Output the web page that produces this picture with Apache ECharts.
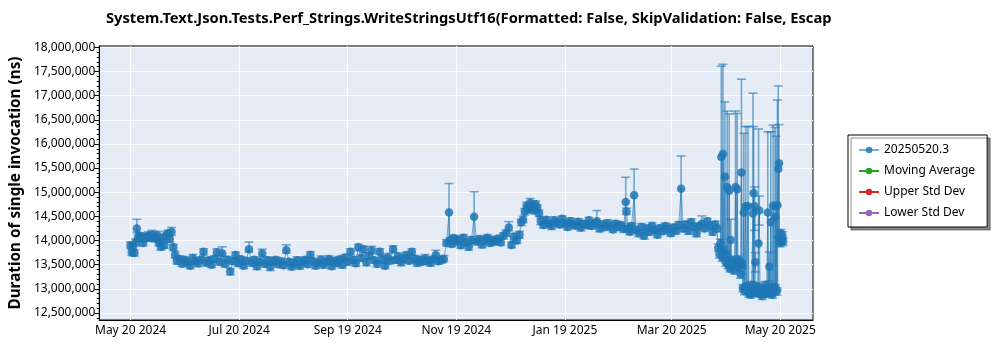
<!DOCTYPE html>
<html>
<head>
<meta charset="utf-8">
<script src="https://cdn.jsdelivr.net/npm/echarts@6/dist/echarts.min.js"></script>
<style>
  html, body { margin: 0; padding: 0; background: #fff; }
  #chart { width: 1000px; height: 350px; }
</style>
</head>
<body>
<div id="chart"></div>
<script>
// ---------------- DATA ----------------
const chartTitle = 'System.Text.Json.Tests.Perf_Strings.WriteStringsUtf16(Formatted: False, SkipValidation: False, Escap';
const yAxisTitle = 'Duration of single invocation (ns)';
const seriesNames = ['20250520.3', 'Moving Average', 'Upper Std Dev', 'Lower Std Dev'];
const baseDate = '2024-05-20';               // day offsets are counted from this date
const xTickDates = ['2024-05-20', '2024-07-20', '2024-09-19', '2024-11-19', '2025-01-19', '2025-03-20', '2025-05-20'];
const yTickValues = [12500000, 13000000, 13500000, 14000000, 14500000, 15000000, 15500000, 16000000, 16500000, 17000000, 17500000, 18000000];

// day offset of each run
const dayOffsets = [
  0, 0.7, 1.4, 2.1, 2.8, 3.5, 4.2, 5, 6, 7,
  8, 9, 10, 11, 12, 13, 14, 15, 16, 17,
  18, 19, 20, 21, 22, 23, 24, 25, 26,
  27.5, 29, 30.5, 32, 33.5, 35, 36.5, 38, 39.5, 41,
  42.5, 44, 45.5, 47, 48.5, 50, 51.5, 53, 54.5, 56,
  57.5, 59, 60.5, 62, 63.5, 65, 66.5, 68, 69.5, 71,
  72.5, 74, 75.5, 77, 78.5, 80, 81.5, 83, 84.5, 86,
  87.5, 89, 90.5, 92, 93.5, 95, 96.5, 98, 99.5, 101,
  102.5, 104, 105.5, 107, 108.5, 110, 111.5, 113, 114.5, 116,
  117.5, 119, 120.5, 122, 123.5, 125, 126.5, 128, 129.5, 131,
  132.5, 134, 135.5, 137, 138.5, 140, 141.5, 143, 144.5, 146,
  147.5, 149, 150.5, 152, 153.5, 155, 156.5, 158, 159.5, 161,
  162.5, 164, 165.5, 167, 168.5, 170, 171.5, 173, 174.5, 176,
  177.5, 178.9, 179.5, 180.5, 181.5, 182.5, 184, 185.5, 187, 188.5,
  190, 191.5, 193, 194.5, 196, 197.5, 199, 200.5, 202, 203.5,
  205, 206.5, 208, 209.5, 211, 212.5, 214, 215.5, 217, 218.5,
  219.5, 220.5, 221.5, 222.5, 223.5, 224.5, 225.5, 226.5, 227.5, 228.5,
  229.5, 230.5, 232, 233.5, 235, 236.5, 238, 239.5, 241, 242.5,
  244, 245.5, 247, 248.5, 250, 251.5, 253, 254.5, 256, 257.5,
  259, 260.5, 262, 263.5, 265, 266.5, 268, 269.5, 271, 272.5,
  274, 275.5, 277, 278.2, 278.6, 279.5, 280.5, 281.5, 282.9, 284,
  285.5, 287, 288.5, 290, 291.5, 293, 294.5, 296, 297.5, 299,
  300.5, 302, 303.5, 305, 306.5, 308, 309.3, 310.5, 312, 313.5,
  315, 316.5, 318, 319.5, 321, 322.5, 324, 325.5, 327, 328.5,
  329.5,
  330.2, 330.8, 331.4, 331.9, 332.4, 332.8, 333.3, 333.9, 334.4, 334.8,
  335.2, 335.7, 336.3, 336.7, 337.2, 337.7, 338.2, 338.7, 339.2, 339.9,
  340.3, 340.8, 341.3, 341.8, 342.3, 342.7, 343.2, 343.7, 344.0, 344.5,
  345.0, 345.6, 346.1, 346.9, 347.4, 347.9, 348.4, 348.9, 349.7, 350.0,
  350.3, 350.6, 351.0, 351.5, 352.0, 352.4, 352.8, 353.2, 353.7, 354.3,
  354.9, 355.5, 356.1, 356.7, 357.3, 358.0, 358.5, 358.9, 359.3, 359.7,
  360.2, 360.6, 361.0, 361.5, 362.1, 362.4, 362.7, 363.1, 363.4, 363.9,
  364.3, 364.6, 365.0, 365.4, 365.8, 366.2, 366.6
];

// duration (thousands of ns)
const durationK = [
  13900, 13760, 13870, 13740, 13960, 14250, 14060, 14100, 14040, 13950,
  14080, 14060, 14100, 14050, 14120, 14070, 14040, 14110, 13950, 13870,
  14060, 13900, 14100, 14150, 14030, 14180, 13860, 13700, 13580,
  13620, 13520, 13600, 13550, 13480, 13640, 13570, 13530, 13600, 13770,
  13540, 13590, 13500, 13620, 13750, 13560, 13730, 13520, 13600, 13360,
  13570, 13700, 13530, 13610, 13480, 13580, 13820, 13540, 13600, 13470,
  13560, 13730, 13520, 13590, 13450, 13560, 13600, 13510, 13570, 13490,
  13800, 13560, 13460, 13530, 13590, 13480, 13550, 13600, 13510, 13700,
  13570, 13480, 13540, 13600, 13500, 13560, 13620, 13470, 13580, 13530,
  13610, 13500, 13650, 13560, 13770, 13600, 13530, 13860, 13640, 13820,
  13550, 13680, 13800, 13590, 13520, 13770, 13610, 13480, 13650, 13580,
  13820, 13600, 13670, 13550, 13620, 13700, 13580, 13770, 13620, 13540,
  13600, 13560, 13630, 13580, 13540, 13610, 13700, 13570, 13600, 13620,
  13950, 14580, 14000, 13930, 14050, 13980, 14020, 13900, 14060, 13960,
  13870, 14010, 14490, 13980, 14030, 13920, 14000, 14060, 13950, 14010,
  13980, 14040, 13960, 14100, 14150, 14270, 13910, 14080, 14000, 14120,
  14380, 14430, 14600, 14720, 14650, 14780, 14700, 14620, 14750, 14680,
  14560, 14400, 14320, 14430, 14350, 14300, 14420, 14380, 14330, 14450,
  14360, 14280, 14400, 14340, 14310, 14390, 14270, 14350, 14320, 14420,
  14300, 14360, 14400, 14250, 14330, 14280, 14360, 14300, 14230, 14350,
  14280, 14320, 14240, 14800, 14600, 14250, 14180, 14300, 14940, 14220,
  14150, 14280, 14100, 14250, 14180, 14300, 14220, 14120, 14260, 14190,
  14300, 14240, 14150, 14270, 14200, 14320, 15070, 14250, 14330, 14200,
  14380, 14280, 14150, 14300, 14350, 14250, 14400, 14300, 14180, 14330,
  14250,
  13850, 13720, 13950, 15730, 13650, 15790, 13800, 15320, 13550, 13700,
  15110, 13500, 15030, 13420, 14010, 13600, 13480, 13550, 13380, 15110,
  13520, 15060, 13600, 13450, 13550, 13300, 15410, 13500, 13020, 14580,
  12950, 14710, 13050, 14710, 12900, 13000, 12880, 13080, 14560, 14980,
  12950, 14710, 13550, 12920, 13050, 12980, 13940, 14620, 12900, 13020,
  12850, 13000, 12940, 13080, 12900, 14580, 12980, 13460, 12920, 14380,
  13040, 12880, 14720, 12960, 14490, 13010, 14720, 12950, 14730, 15480,
  15600, 14050, 13950, 14150, 14000, 14100, 13980
];

// error above the value (thousands of ns)
const errUpK = [
  70, 60, 80, 60, 70, 190, 70, 60, 80, 60,
  70, 60, 80, 60, 90, 60, 70, 80, 60, 70,
  60, 70, 80, 60, 70, 90, 60, 70, 60,
  60, 70, 60, 80, 60, 70, 60, 70, 60, 60,
  70, 60, 70, 60, 80, 60, 140, 60, 70, 60,
  70, 60, 70, 60, 70, 60, 150, 70, 60, 70,
  60, 90, 60, 70, 60, 70, 60, 80, 60, 70,
  110, 60, 70, 60, 70, 60, 80, 60, 70, 70,
  60, 70, 60, 80, 60, 70, 60, 70, 60, 70,
  60, 80, 60, 70, 60, 70, 60, 60, 70, 60,
  70, 60, 80, 60, 70, 60, 70, 60, 80, 60,
  70, 60, 70, 60, 80, 60, 70, 60, 70, 60,
  70, 60, 80, 60, 70, 60, 100, 70, 60, 70,
  70, 600, 60, 70, 60, 70, 60, 70, 60, 70,
  60, 70, 520, 60, 70, 60, 70, 60, 70, 60,
  70, 60, 70, 60, 70, 120, 60, 70, 60, 70,
  60, 70, 60, 70, 60, 90, 70, 60, 70, 60,
  70, 60, 70, 60, 70, 60, 70, 60, 70, 60,
  70, 60, 70, 60, 70, 60, 70, 60, 70, 60,
  70, 60, 220, 60, 70, 60, 70, 60, 70, 60,
  70, 60, 70, 510, 70, 60, 70, 60, 540, 70,
  60, 70, 60, 70, 60, 70, 60, 70, 60, 70,
  60, 70, 60, 70, 60, 70, 680, 60, 70, 60,
  70, 60, 70, 60, 160, 70, 60, 70, 60, 70,
  60,
  80, 70, 80, 1880, 70, 1860, 80, 1550, 70, 80,
  1570, 70, 1590, 80, 430, 70, 80, 70, 80, 1570,
  70, 1570, 80, 70, 80, 70, 1930, 80, 70, 1640,
  80, 1650, 70, 1650, 80, 70, 80, 70, 2490, 1380,
  80, 400, 200, 70, 80, 70, 2370, 300, 80, 70,
  80, 70, 80, 70, 80, 1670, 70, 300, 80, 1870,
  70, 80, 1670, 70, 1850, 80, 1440, 70, 2180, 1720,
  800, 80, 70, 80, 70, 80, 70
];

// error below the value (thousands of ns)
const errDownK = [
  60, 70, 60, 60, 70, 80, 60, 70, 60, 60,
  70, 60, 70, 60, 70, 60, 70, 60, 60, 70,
  60, 60, 70, 60, 60, 70, 60, 60, 70,
  70, 60, 70, 60, 60, 70, 60, 70, 60, 70,
  60, 70, 60, 70, 60, 70, 60, 70, 60, 70,
  60, 70, 60, 70, 60, 70, 60, 70, 60, 70,
  70, 60, 70, 60, 70, 60, 70, 60, 70, 60,
  60, 70, 60, 70, 60, 70, 60, 70, 60, 70,
  70, 60, 70, 60, 70, 60, 70, 60, 70, 60,
  60, 70, 60, 70, 60, 70, 60, 70, 60, 70,
  70, 60, 70, 60, 70, 60, 70, 60, 70, 60,
  60, 70, 60, 70, 60, 70, 60, 70, 60, 70,
  70, 60, 70, 60, 70, 60, 70, 60, 70, 60,
  60, 600, 70, 60, 70, 60, 70, 60, 70, 60,
  70, 60, 500, 70, 60, 70, 60, 70, 60, 70,
  60, 70, 60, 70, 60, 70, 60, 70, 60, 70,
  70, 60, 70, 60, 70, 60, 70, 60, 70, 60,
  60, 70, 60, 70, 60, 70, 60, 70, 60, 70,
  70, 60, 70, 60, 70, 60, 70, 60, 70, 60,
  60, 70, 60, 70, 60, 70, 60, 70, 60, 70,
  70, 60, 70, 450, 60, 70, 60, 70, 650, 60,
  70, 60, 70, 60, 70, 60, 70, 60, 70, 60,
  60, 70, 60, 70, 60, 70, 750, 70, 60, 70,
  70, 60, 70, 60, 70, 60, 70, 60, 70, 60,
  70,
  70, 80, 70, 1900, 80, 2000, 70, 1700, 80, 70,
  1600, 80, 1550, 70, 400, 80, 70, 80, 70, 1700,
  80, 1600, 70, 80, 70, 80, 2000, 70, 80, 1600,
  70, 1700, 80, 1750, 70, 80, 70, 80, 1600, 2000,
  70, 500, 200, 80, 70, 80, 1000, 300, 70, 80,
  70, 80, 70, 80, 70, 1650, 80, 300, 70, 1400,
  80, 70, 1800, 80, 1500, 70, 1700, 80, 1750, 1400,
  1550, 70, 80, 70, 80, 70, 80
];

if (dayOffsets.length !== durationK.length || durationK.length !== errUpK.length || errUpK.length !== errDownK.length) {
  throw new Error('length mismatch ' + [dayOffsets.length, durationK.length, errUpK.length, errDownK.length].join(','));
}

// ---------------- BUILD ----------------
const DAY = 86400000;
function utc(s) { const p = s.split('-').map(Number); return Date.UTC(p[0], p[1] - 1, p[2]); }
const T0 = utc(baseDate);
const xTickVals = xTickDates.map(utc);
const X_MIN = xTickVals[0] - 17.6 * DAY;
const X_MAX = xTickVals[xTickVals.length - 1] + 18.4 * DAY;
const Y_MIN = 12355000, Y_MAX = 18027000;
const minorTickVals = [];
for (let v = 12400000; v <= 18000000; v += 100000) minorTickVals.push(v);

const points = dayOffsets.map((d, i) => [T0 + d * DAY, durationK[i] * 1000]);
const bars = dayOffsets.map((d, i) => [T0 + d * DAY, (durationK[i] - errDownK[i]) * 1000, (durationK[i] + errUpK[i]) * 1000]);

const MONTHS = ['Jan', 'Feb', 'Mar', 'Apr', 'May', 'Jun', 'Jul', 'Aug', 'Sep', 'Oct', 'Nov', 'Dec'];
function fmtDate(v) { const d = new Date(Number(v)); return MONTHS[d.getUTCMonth()] + ' ' + d.getUTCDate() + ' ' + d.getUTCFullYear(); }

const BLUE = '#1f77b4';
const FONT = "'Noto Sans', sans-serif";

function renderErr(params, api) {
  const x = api.value(0);
  const lo = api.coord([x, api.value(1)]);
  const hi = api.coord([x, api.value(2)]);
  const hw = 4.5;
  const style = { stroke: BLUE, lineWidth: 1.6, opacity: 0.6 };
  return {
    type: 'group',
    children: [
      { type: 'line', shape: { x1: lo[0], y1: lo[1], x2: hi[0], y2: hi[1] }, style: style },
      { type: 'line', shape: { x1: hi[0] - hw, y1: hi[1], x2: hi[0] + hw, y2: hi[1] }, style: style },
      { type: 'line', shape: { x1: lo[0] - hw, y1: lo[1], x2: lo[0] + hw, y2: lo[1] }, style: style }
    ]
  };
}

const chart = echarts.init(document.getElementById('chart'), null, { renderer: 'canvas' });
chart.setOption({
  animation: false,
  textStyle: { fontFamily: FONT },
  title: {
    text: chartTitle, left: 101, top: 6,
    textStyle: { fontFamily: FONT, fontSize: 14.7, fontWeight: 'bold', color: '#000' }
  },
  grid: {
    left: 93, right: 187, top: 46, bottom: 30,
    show: true, backgroundColor: '#e5ecf6', borderColor: '#000', borderWidth: 1
  },
  legend: {
    orient: 'vertical', left: 848, top: 135,
    padding: [8, 12, 7, 10], itemGap: 7, itemWidth: 20, itemHeight: 8,
    backgroundColor: '#fff', borderColor: '#000', borderWidth: 1, borderRadius: 0,
    shadowColor: 'rgba(0,0,0,0.45)', shadowBlur: 0, shadowOffsetX: 3, shadowOffsetY: 3,
    textStyle: { fontFamily: FONT, fontSize: 12, color: '#000', lineHeight: 14 },
    data: seriesNames
  },
  xAxis: {
    type: 'value', min: X_MIN, max: X_MAX, scale: true,
    axisLine: { show: true, lineStyle: { color: '#000', width: 1 } },
    axisTick: { show: false, customValues: xTickVals },
    axisLabel: { customValues: xTickVals, formatter: fmtDate, color: '#000', fontSize: 12, margin: 5, fontFamily: FONT, hideOverlap: false },
    splitLine: { show: true, lineStyle: { color: '#fff', width: 1 } }
  },
  yAxis: [
    {
      type: 'value', min: Y_MIN, max: Y_MAX, position: 'left',
      axisLine: { show: true, lineStyle: { color: '#000', width: 1 } },
      axisTick: { show: true, length: 2.5, customValues: minorTickVals, lineStyle: { color: '#000' } },
      axisLabel: { show: false },
      splitLine: { show: false }
    },
    {
      type: 'value', min: Y_MIN, max: Y_MAX, position: 'left', offset: 0,
      axisLine: { show: true, lineStyle: { color: '#000', width: 1 } },
      axisTick: { show: true, length: 5, customValues: yTickValues, lineStyle: { color: '#000' } },
      axisLabel: { customValues: yTickValues, formatter: v => Number(v).toLocaleString('en-US'), color: '#000', fontSize: 12, margin: 4, fontFamily: FONT },
      splitLine: { show: true, lineStyle: { color: '#fff', width: 1 } },
      name: yAxisTitle, nameLocation: 'middle', nameGap: 69,
      nameTextStyle: { fontFamily: FONT, fontSize: 15.3, fontWeight: 'bold', color: '#000' }
    }
  ],
  series: [
    {
      type: 'custom', name: 'errorBars', renderItem: renderErr, data: bars,
      encode: { x: 0, y: [1, 2] }, yAxisIndex: 0, z: 1, silent: true, clip: true
    },
    {
      type: 'line', name: seriesNames[0], data: points, yAxisIndex: 0, z: 2,
      symbol: 'circle', symbolSize: 8.5, showSymbol: true,
      itemStyle: { color: BLUE, opacity: 0.85 },
      lineStyle: { color: BLUE, width: 1, opacity: 0.6 }
    },
    { type: 'line', name: seriesNames[1], data: [], symbol: 'circle', itemStyle: { color: '#2ca02c' }, lineStyle: { color: '#2ca02c', width: 1 } },
    { type: 'line', name: seriesNames[2], data: [], symbol: 'circle', itemStyle: { color: '#d62728' }, lineStyle: { color: '#d62728', width: 1 } },
    { type: 'line', name: seriesNames[3], data: [], symbol: 'circle', itemStyle: { color: '#9467bd' }, lineStyle: { color: '#9467bd', width: 1 } }
  ]
});
</script>
</body>
</html>
